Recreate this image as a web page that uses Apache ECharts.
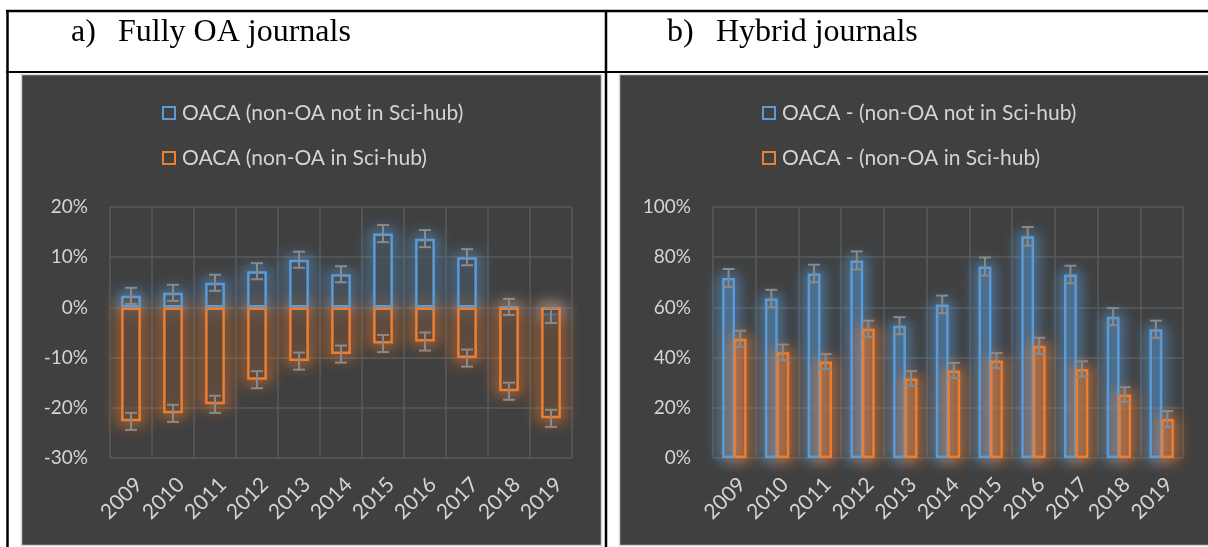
<!DOCTYPE html>
<html>
<head>
<meta charset="utf-8">
<style>
html,body{margin:0;padding:0;background:#ffffff;}
#chart{width:1208px;height:547px;}
</style>
<script src="https://cdn.jsdelivr.net/npm/echarts@6/dist/echarts.min.js"></script>
</head>
<body>
<div id="chart"></div>
<script>
// ---- data ----
const years = ['2009','2010','2011','2012','2013','2014','2015','2016','2017','2018','2019'];

// a) Fully OA journals (percent)
const fullyNames = ['OACA (non-OA not in Sci-hub)', 'OACA (non-OA in Sci-hub)'];
const fullyNotInSci = [2.3, 2.9, 4.9, 7.2, 9.5, 6.6, 14.7, 13.7, 10.0, 0.1, -1.6];
const fullyInSci    = [-22.7, -21.1, -19.3, -14.4, -10.7, -9.3, -7.2, -6.8, -10.1, -16.7, -22.1];
const fullyErrNot   = [1.6, 1.6, 1.6, 1.6, 1.6, 1.6, 1.7, 1.7, 1.6, 1.6, 1.5];
const fullyErrIn    = [1.7, 1.7, 1.7, 1.7, 1.7, 1.7, 1.7, 1.8, 1.7, 1.7, 1.7];
const fullyTicks = {min: -30, max: 20, interval: 10};

// b) Hybrid journals (percent)
const hybridNames = ['OACA - (non-OA not in Sci-hub)', 'OACA - (non-OA in Sci-hub)'];
const hybridNotInSci = [71.7, 63.5, 73.5, 78.7, 52.7, 61.2, 76.3, 88.3, 73.1, 56.3, 51.3];
const hybridInSci    = [47.5, 42.1, 38.4, 51.5, 31.7, 34.9, 38.8, 44.7, 35.5, 25.3, 15.5];
const hybridErrNot   = [3.6, 3.5, 3.5, 3.6, 3.4, 3.5, 3.6, 3.7, 3.5, 3.4, 3.4];
const hybridErrIn    = [3.2, 3.1, 3.0, 3.2, 2.9, 3.0, 3.0, 3.2, 3.0, 2.9, 3.2];
const hybridTicks = {min: 0, max: 100, interval: 20};

const titles = [['a)', 'Fully OA journals'], ['b)', 'Hybrid journals']];

// ---- style ----
const BLUE = '#5B9BD5', ORANGE = '#ED7D31';
const BG = '#404040', GRID = '#5a5a5a', TXT = '#d4d4d4', ERR = '#8a8a8a';
const FONT = 'Lato';
const SHIFT = 4000; // glow drawn off-canvas, only its shadow is shifted back

function barSeries(name, data, color, fill, xi, yi, opts) {
  return Object.assign({
    type: 'bar', name: name, data: data, xAxisIndex: xi, yAxisIndex: yi, z: 3,
    itemStyle: {color: fill, borderColor: color, borderWidth: 2.5},
    emphasis: {disabled: true}, animation: false
  }, opts);
}

// soft glow behind each bar (Excel "glow" effect): pure blurred shadow of the outline
function glowSeries(values, xi, yi, widthFrac, offsetFactor, rgb, alpha, fillAlpha) {
  return {
    type: 'custom', xAxisIndex: xi, yAxisIndex: yi, silent: true, z: 1, animation: false, clip: false,
    data: values.map((v, i) => [i, v]),
    renderItem: function (params, api) {
      const i = api.value(0);
      const top = api.coord([i, api.value(1)]);
      const base = api.coord([i, 0]);
      const bw = api.size([1, 0])[0];
      const w = bw * widthFrac;
      const cx = top[0] + bw * offsetFactor;
      const y0 = Math.min(top[1], base[1]), h = Math.abs(top[1] - base[1]);
      return {type: 'rect', shape: {x: cx - w / 2 - SHIFT, y: y0, width: w, height: h},
        style: {fill: 'rgba(' + rgb + ',' + fillAlpha + ')', stroke: 'rgb(' + rgb + ')', lineWidth: 6,
                shadowBlur: 15, shadowOffsetX: SHIFT, shadowColor: 'rgba(' + rgb + ',' + alpha + ')'}};
    }
  };
}

function errSeries(values, errs, xi, yi, offsetFactor) {
  return {
    type: 'custom', xAxisIndex: xi, yAxisIndex: yi, silent: true, z: 10, animation: false,
    data: values.map((v, i) => [i, v - errs[i], v + errs[i]]),
    renderItem: function (params, api) {
      const i = api.value(0);
      const lo = api.coord([i, api.value(1)]);
      const hi = api.coord([i, api.value(2)]);
      const bw = api.size([1, 0])[0];
      const cx = lo[0] + bw * offsetFactor;
      const cap = 6;
      const st = {stroke: ERR, lineWidth: 2};
      return {type: 'group', children: [
        {type: 'line', shape: {x1: cx, y1: lo[1], x2: cx, y2: hi[1]}, style: st},
        {type: 'line', shape: {x1: cx - cap, y1: lo[1], x2: cx + cap, y2: lo[1]}, style: st},
        {type: 'line', shape: {x1: cx - cap, y1: hi[1], x2: cx + cap, y2: hi[1]}, style: st}
      ]};
    }
  };
}

function xAxisDef(gi) {
  return {
    type: 'category', data: years, gridIndex: gi,
    axisLine: {show: false, onZero: false}, axisTick: {show: false},
    axisLabel: {rotate: 45, color: TXT, fontFamily: FONT, fontSize: 21, margin: 31, interval: 0,
                padding: [0, -11, 0, 0]},
    splitLine: {show: true, lineStyle: {color: GRID, width: 1.5}}
  };
}
function yAxisDef(gi, t) {
  return {
    type: 'value', gridIndex: gi, min: t.min, max: t.max, interval: t.interval,
    axisLine: {show: false}, axisTick: {show: false},
    axisLabel: {formatter: '{value}%', color: TXT, fontFamily: FONT, fontSize: 19, margin: 22},
    splitLine: {show: true, lineStyle: {color: GRID, width: 1.5}}
  };
}

const chart = echarts.init(document.getElementById('chart'), null, {renderer: 'canvas'});

const TFONT = '32px "Liberation Serif"';
const graphics = [
  // chart panels
  {type: 'rect', shape: {x: 21.5, y: 74.5, width: 580, height: 471}, style: {fill: BG, stroke: '#d4d4d4', lineWidth: 1.5}, z: -10},
  {type: 'rect', shape: {x: 619.5, y: 74.5, width: 600, height: 471}, style: {fill: BG, stroke: '#d4d4d4', lineWidth: 1.5}, z: -10},
  // table lines
  {type: 'line', shape: {x1: 6, y1: 11, x2: 1208, y2: 11}, style: {stroke: '#000', lineWidth: 2.5}},
  {type: 'line', shape: {x1: 6, y1: 72, x2: 1208, y2: 72}, style: {stroke: '#000', lineWidth: 2}},
  {type: 'line', shape: {x1: 7.5, y1: 10, x2: 7.5, y2: 547}, style: {stroke: '#000', lineWidth: 2.5}},
  {type: 'line', shape: {x1: 606, y1: 10, x2: 606, y2: 547}, style: {stroke: '#000', lineWidth: 2.5}},
  // titles
  {type: 'text', x: 71, y: 33, style: {text: titles[0][0], font: TFONT, fill: '#000', verticalAlign: 'middle'}},
  {type: 'text', x: 118, y: 33, style: {text: titles[0][1], font: TFONT, fill: '#000', verticalAlign: 'middle'}},
  {type: 'text', x: 667, y: 33, style: {text: titles[1][0], font: TFONT, fill: '#000', verticalAlign: 'middle'}},
  {type: 'text', x: 716, y: 33, style: {text: titles[1][1], font: TFONT, fill: '#000', verticalAlign: 'middle'}}
];

function legendDef(names, left) {
  return {
    orient: 'vertical', left: left, top: 96, itemGap: 21, itemWidth: 12, itemHeight: 12,
    icon: 'rect', selectedMode: false,
    data: [
      {name: names[0], itemStyle: {color: 'transparent', borderColor: BLUE, borderWidth: 2}},
      {name: names[1], itemStyle: {color: 'transparent', borderColor: ORANGE, borderWidth: 2}}
    ],
    textStyle: {color: TXT, fontFamily: FONT, fontSize: 21, lineHeight: 24, padding: [0, 0, 0, 2]}
  };
}

const option = {
  backgroundColor: '#ffffff',
  animation: false,
  graphic: graphics,
  legend: [legendDef(fullyNames, 157), legendDef(hybridNames, 757)],
  grid: [
    {left: 110, top: 207, width: 462, height: 251},
    {left: 713, top: 207, width: 470, height: 251}
  ],
  xAxis: [xAxisDef(0), xAxisDef(1)],
  yAxis: [yAxisDef(0, fullyTicks), yAxisDef(1, hybridTicks)],
  series: [
    glowSeries(fullyNotInSci, 0, 0, 0.47, 0, '91,155,213', 0.9, 0.15),
    glowSeries(fullyInSci, 0, 0, 0.47, 0, '237,125,49', 0.9, 0.15),
    barSeries(fullyNames[0], fullyNotInSci, BLUE, 'rgba(64,64,64,0.5)', 0, 0, {barWidth: '47%', barGap: '-100%'}),
    barSeries(fullyNames[1], fullyInSci, ORANGE, 'rgba(64,64,64,0.5)', 0, 0, {barWidth: '47%', barGap: '-100%'}),
    errSeries(fullyNotInSci, fullyErrNot, 0, 0, 0),
    errSeries(fullyInSci, fullyErrIn, 0, 0, 0),
    glowSeries(hybridNotInSci, 1, 1, 0.3, -0.3 * 0.45, '91,155,213', 0.85, 0.35),
    glowSeries(hybridInSci, 1, 1, 0.3, 0.3 * 0.45, '237,125,49', 0.85, 0.35),
    barSeries(hybridNames[0], hybridNotInSci, BLUE, 'rgba(91,155,213,0.06)', 1, 1, {barWidth: '30%', barGap: '-10%'}),
    barSeries(hybridNames[1], hybridInSci, ORANGE, 'rgba(237,125,49,0.06)', 1, 1, {barWidth: '30%', barGap: '-10%'}),
    errSeries(hybridNotInSci, hybridErrNot, 1, 1, -0.3 * 0.45),
    errSeries(hybridInSci, hybridErrIn, 1, 1, 0.3 * 0.45)
  ]
};
chart.setOption(option);
</script>
</body>
</html>
